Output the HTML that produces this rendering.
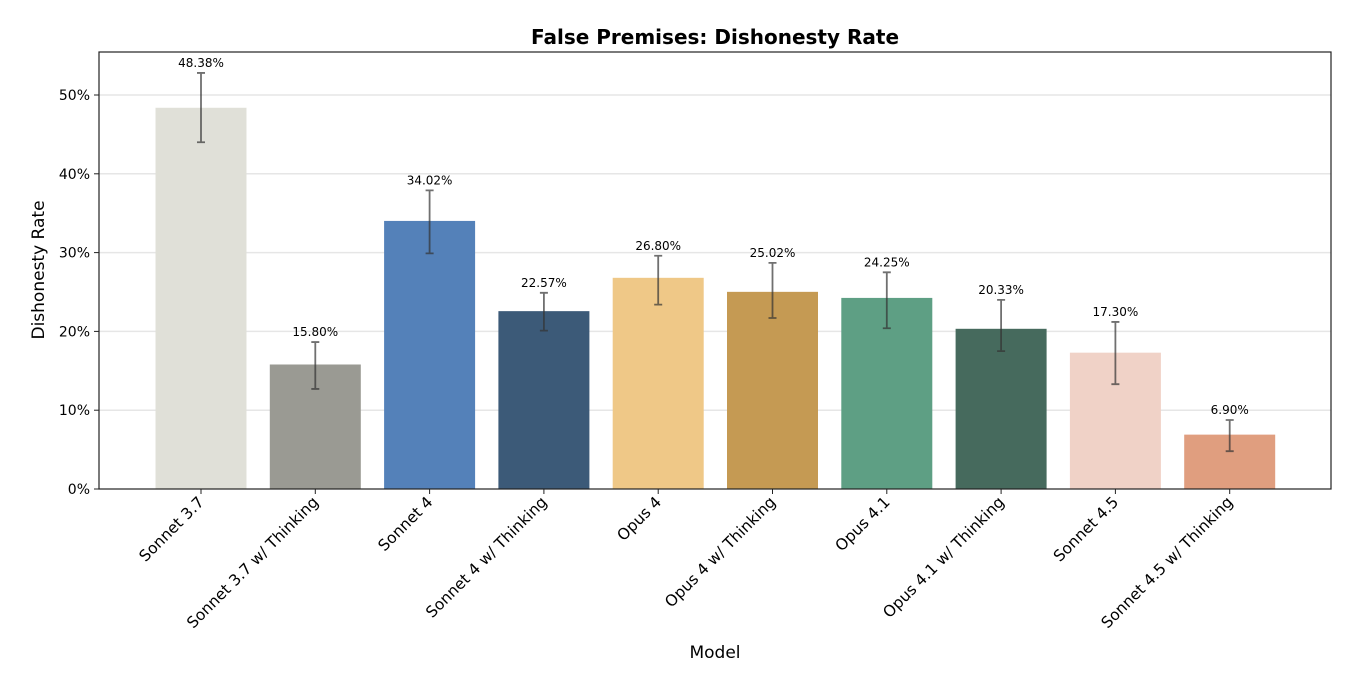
<!DOCTYPE html>
<html><head><meta charset="utf-8"><style>
body{margin:0;background:#fff;}
svg text{font-family:"DejaVu Sans","Liberation Sans",sans-serif;}
</style></head><body>
<svg width="1362" height="672" xmlns="http://www.w3.org/2000/svg">
<text x="715" y="44" text-anchor="middle" font-size="20" font-weight="bold">False Premises: Dishonesty Rate</text>
<g id="grid"></g><g id="bars"></g><g id="yaxis"></g><g id="xaxis"></g>
<rect x="99" y="52" width="1232" height="437" fill="none" stroke="#222" stroke-width="1.2"/>
<text x="44" y="270" transform="rotate(-90 44 270)" text-anchor="middle" font-size="17">Dishonesty Rate</text>
<text x="715" y="658" text-anchor="middle" font-size="17">Model</text>
</svg>
<script>
const categories=["Sonnet 3.7","Sonnet 3.7 w/ Thinking","Sonnet 4","Sonnet 4 w/ Thinking","Opus 4","Opus 4 w/ Thinking","Opus 4.1","Opus 4.1 w/ Thinking","Sonnet 4.5","Sonnet 4.5 w/ Thinking"];
const values=[48.38,15.80,34.02,22.57,26.80,25.02,24.25,20.33,17.30,6.90];
const errLow=[44.0,12.7,29.9,20.1,23.4,21.7,20.4,17.5,13.3,4.8];
const errHigh=[52.8,18.65,37.9,24.9,29.6,28.7,27.5,24.0,21.2,8.76];
const colors=["#e0e0d8","#9a9a93","#5481b9","#3c5a78","#efc887","#c59a53","#5e9f84","#466a5d","#f0d2c7","#e09e7f"];
const yTicks=[0,10,20,30,40,50];
const NS="http://www.w3.org/2000/svg";
const L=99,R=1331,T=52,B=489;
const y=v=>B-v*(B-95)/50;
const step=114.3;
const x=i=>L+102+i*step;
const bw=91;
function mk(tag,attrs,parent){const e=document.createElementNS(NS,tag);for(const k in attrs)e.setAttribute(k,attrs[k]);document.getElementById(parent).appendChild(e);return e;}
yTicks.forEach(t=>{
  if(t>0){const g=mk('line',{x1:L,x2:R,y1:y(t),y2:y(t),stroke:'#e6e6e6','stroke-width':1.5},'grid');
  
  }
  const tk=mk('line',{x1:L-5,x2:L,y1:y(t),y2:y(t),stroke:'#222'},'yaxis');
  
  
  const tx=mk('text',{x:L-9,y:y(t)+5,'text-anchor':'end','font-size':14},'yaxis');
  tx.textContent=t+'%';
  
  
});
categories.forEach((c,i)=>{
  const cx=x(i);
  const r=mk('rect',{x:cx-bw/2,y:y(values[i]),width:bw,height:B-y(values[i]),fill:colors[i]},'bars');
  
  
  const e=mk('path',{d:`M${cx},${y(errLow[i])}V${y(errHigh[i])}M${cx-4},${y(errLow[i])}H${cx+4}M${cx-4},${y(errHigh[i])}H${cx+4}`,stroke:'#333','stroke-opacity':0.7,'stroke-width':1.8,fill:'none'},'bars');
  
  
  const v=mk('text',{x:cx,y:y(errHigh[i])-6,'text-anchor':'middle','font-size':12},'bars');
  v.textContent=values[i].toFixed(2)+'%';
  
  
  const tk=mk('line',{x1:cx,x2:cx,y1:B,y2:B+5,stroke:'#222'},'xaxis');
  
  
  const lt=mk('text',{x:cx+4,y:B+14,'text-anchor':'end','font-size':15.5,transform:`rotate(-45 ${cx+4} ${B+14})`},'xaxis');
  lt.textContent=c;
  
  
});
</script>
</body></html>
